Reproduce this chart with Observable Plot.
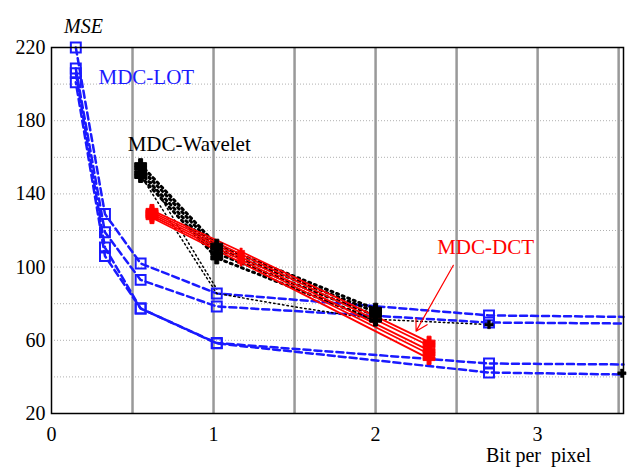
<!DOCTYPE html>
<html>
<head>
<meta charset="utf-8">
<script src="https://cdn.jsdelivr.net/npm/d3@7"></script>
<script src="https://cdn.jsdelivr.net/npm/@observablehq/plot@0.6"></script>
<style>
  html, body { margin: 0; padding: 0; background: #fff; }
</style>
</head>
<body>
<div id="chart"></div>
<script>
// ---- Data ----
// MDC-LOT (blue, dashed, square markers)
const lotX = [0.15, 0.33, 0.55, 1.02, 2.7, 3.53];
const lotA = [220, 129, 102, 85.6, 73.6, 72.8];
const lotB = [208.5, 119, 93, 78.5, 69.7, 69.2];
const lotC = [206, 110.7, 77.4, 58.5, 47.3, 46.8];
const lotD = [201, 106, 77.4, 58.3, 42.4, 41.3];
const lotMarkerCount = 5; // markers on first five x values

// MDC-Wavelet (black, dotted, plus markers)
const wavX = [0.55, 1.02, 2.0];
const wav1 = [156, 112, 77];
const wav2 = [154, 110, 75.5];
const wav3 = [151.5, 107.5, 73.5];
const wav4 = [149.5, 105, 71];
// thin dotted wavelet curves
const wavThinX = [0.55, 1.02, 1.52, 2.0, 2.7];
const wavThin1 = [150, 85.6, 78, 71.5, 68.6];
const wavThin2X = [0.57, 1.02];
const wavThin2 = [153, 88];
// isolated small wavelet end markers
const wavEndX = [2.7, 3.52];
const wavEndY = [68.6, 42];

// MDC-DCT (red, solid, plus markers)
const dctX = [0.62, 1.17, 2.33];
const dct1 = [131, 108.5, 59];
const dct2 = [130, 107, 57];
const dct3 = [129, 105.5, 54.5];
const dct4 = [128, 104, 52.5];
const dct5 = [127, 102.5, 50];

// Axis ticks
const xTicks = [0, 1, 2, 3];
const yTicks = [20, 60, 100, 140, 180, 220];
const xGrid = [0.5, 1, 1.5, 2, 2.5, 3, 3.5];
const yGrid = [40, 60, 80, 100, 120, 140, 160, 180, 200];

// Annotations
const labelText = ["MDC-LOT", "MDC-Wavelet", "MDC-DCT"];
const labelX = [0.29, 0.47, 2.38];
const labelY = [204, 167, 111];
const labelColor = ["#1a1aff", "#000000", "#ff0000"];
const arrowFrom = [2.48, 101];
const arrowTo = [2.25, 65];

// ---- Build tables ----
const toRows = (xs, ys, series) => xs.map((x, i) => ({x, y: ys[i], series}));
const lotSeries = {A: lotA, B: lotB, C: lotC, D: lotD};
const lotRows = Object.entries(lotSeries).flatMap(([k, ys]) => toRows(lotX, ys, k));
const lotMarkers = lotRows.filter((d) => lotX.indexOf(d.x) < lotMarkerCount);
const wavRows = [wav1, wav2, wav3, wav4].flatMap((ys, i) => toRows(wavX, ys, "w" + i));
const wavThinRows = [...toRows(wavThinX, wavThin1, "t1"), ...toRows(wavThin2X, wavThin2, "t2")];
const wavEndRows = toRows(wavEndX, wavEndY, "end");
const dctRows = [dct1, dct2, dct3, dct4, dct5].flatMap((ys, i) => toRows(dctX, ys, "d" + i));
const labels = labelText.map((t, i) => ({text: t, x: labelX[i], y: labelY[i], color: labelColor[i]}));

const BLUE = "#1a1aff";
const FONT = "Liberation Serif";

const chart = Plot.plot({
  width: 632,
  height: 475,
  marginLeft: 51,
  marginRight: 9,
  marginTop: 47,
  marginBottom: 62,
  style: {fontSize: "20px", background: "#fff", color: "#000"},
  x: {domain: [0, 3.53]},
  y: {domain: [20, 220]},
  marks: [
    Plot.gridY(yGrid, {stroke: "#b0b0b0", strokeOpacity: 1, strokeWidth: 1, strokeDasharray: "1,2"}),
    Plot.gridX(xGrid, {stroke: "#999", strokeOpacity: 1, strokeWidth: 2.5}),
    Plot.axisY(yTicks, {tickSize: 0, tickPadding: 6, label: null, fontSize: 20, tickFormat: d => String(d)}),
    Plot.axisX(xTicks, {tickSize: 0, tickPadding: 13, label: null, fontSize: 20, tickFormat: d => String(d)}),
    // LOT lines
    Plot.line(lotRows.filter(d => d.series !== "D"), {x: "x", y: "y", z: "series", stroke: BLUE, strokeWidth: 2.5, strokeDasharray: "7,4"}),
    Plot.line(lotRows.filter(d => d.series === "D"), {x: "x", y: "y", z: "series", stroke: BLUE, strokeWidth: 2.5, strokeDasharray: "7,4", strokeDashoffset: 5}),
    // Wavelet lines
    Plot.line(wavThinRows, {x: "x", y: "y", z: "series", stroke: "#000", strokeWidth: 1.5, strokeDasharray: "1.5,3"}),
    Plot.line(wavRows, {x: "x", y: "y", z: "series", stroke: "#000", strokeWidth: 3, strokeDasharray: "2,4"}),
    // DCT lines
    Plot.line(dctRows, {x: "x", y: "y", z: "series", stroke: "#ff0000", strokeWidth: 1.8}),
    // markers
    Plot.dot(lotMarkers, {x: "x", y: "y", symbol: "square", r: 5.6, stroke: BLUE, strokeWidth: 2, fill: "none"}),
    Plot.dot(wavRows, {x: "x", y: "y", symbol: "cross", r: 5, fill: "#000", stroke: "#000", strokeWidth: 1}),
    Plot.dot(wavEndRows, {x: "x", y: "y", symbol: "cross", r: 3.5, fill: "#000", stroke: "#000", strokeWidth: 0.5}),
    Plot.dot(dctRows.filter(d => d.x !== dctX[1]), {x: "x", y: "y", symbol: "cross", r: 5, fill: "#ff0000", stroke: "#ff0000", strokeWidth: 1}),
    Plot.dot(dctRows.filter(d => d.x === dctX[1]), {x: "x", y: "y", symbol: "cross", r: 3, fill: "#ff0000", stroke: "#ff0000", strokeWidth: 0.5}),
    // annotations
    Plot.text(labels, {x: "x", y: "y", text: "text", fill: "color", textAnchor: "start", fontSize: 21}),
    Plot.arrow([{x1: arrowFrom[0], y1: arrowFrom[1], x2: arrowTo[0], y2: arrowTo[1]}], {x1: "x1", y1: "y1", x2: "x2", y2: "y2", stroke: "#ff0000", strokeWidth: 1.2, headLength: 16}),
    Plot.text(["MSE"], {frameAnchor: "top-left", dx: 32, dy: -29, text: d => d, fontStyle: "italic", fontSize: 20, textAnchor: "middle"}),
    Plot.text(["Bit per\u00a0 pixel"], {frameAnchor: "bottom-right", dx: -85, dy: 48, text: d => d, fontSize: 20, textAnchor: "middle"}),
    Plot.frame({stroke: "#000", strokeWidth: 1.5})
  ]
});
chart.setAttribute("font-family", FONT);
chart.style.fontFamily = FONT;
d3.select(chart).selectAll("g, text").attr("font-family", FONT).style("font-family", FONT);
document.getElementById("chart").appendChild(chart);
</script>
</body>
</html>
